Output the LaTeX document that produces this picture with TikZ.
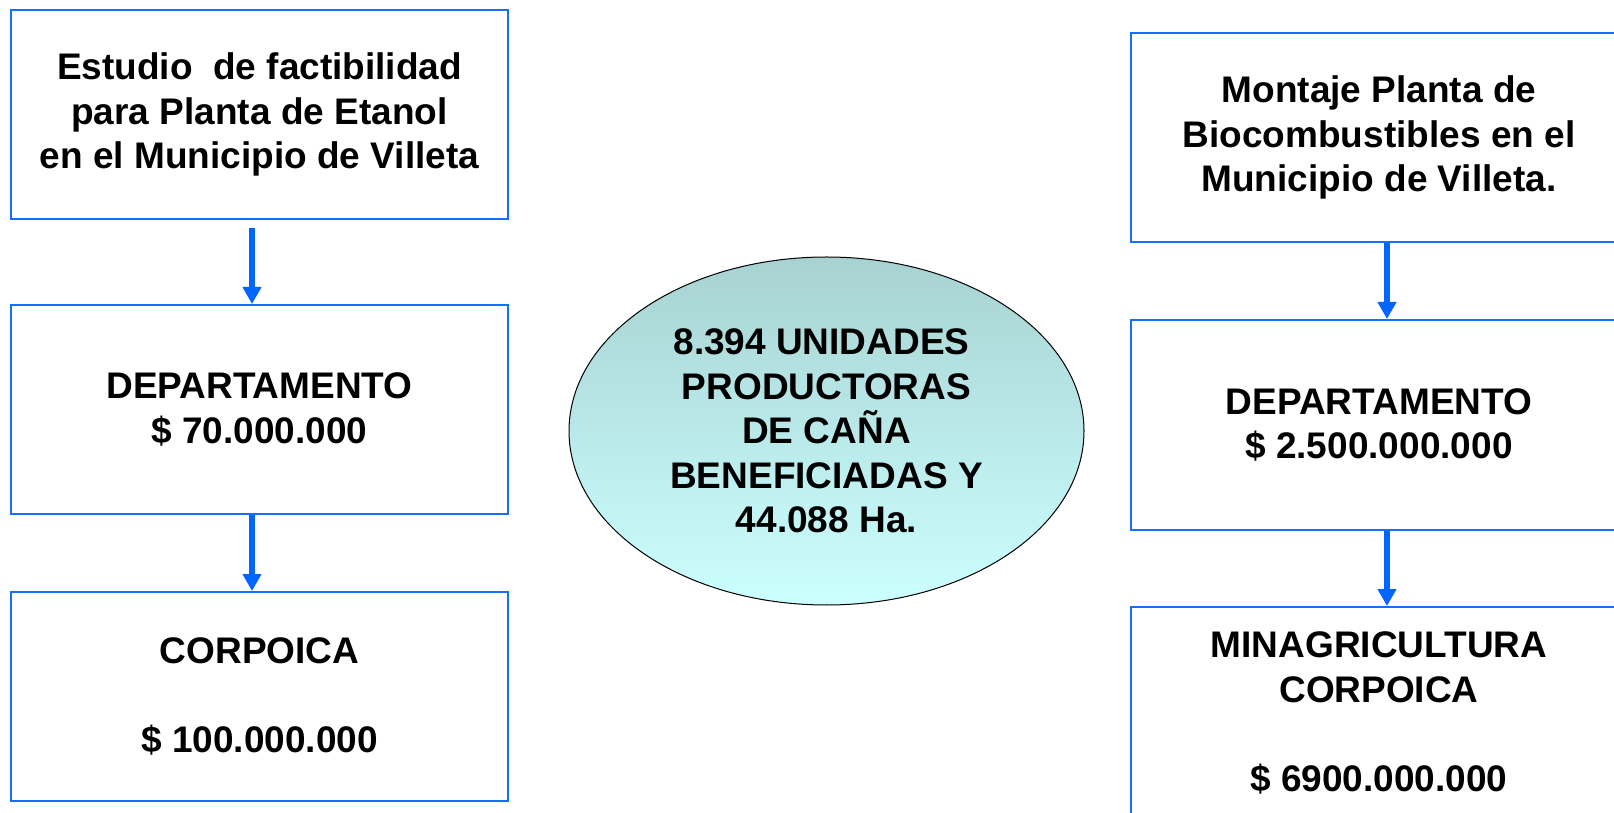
\documentclass[tikz,border=0pt]{standalone}
\usepackage{fontspec}
\setmainfont{Liberation Sans}
\usetikzlibrary{arrows.meta,shapes.geometric}
\definecolor{boxblue}{RGB}{20,110,255}
\definecolor{arrblue}{RGB}{0,102,255}
\definecolor{elltop}{RGB}{168,210,210}
\definecolor{ellbot}{RGB}{204,255,255}
\tikzset{
  txt/.style={font=\fontsize{37}{44.5}\selectfont\bfseries, align=center, text=black},
  stagebox/.style={txt, draw=boxblue, line width=2pt, rectangle, minimum width=497pt, inner sep=0pt},
  flowarrow/.style={draw=arrblue, line width=5.5pt, -{Triangle[length=17pt,width=18pt]}},
}
\begin{document}
\begin{tikzpicture}[x=1pt,y=1pt]
\useasboundingbox (0,0) rectangle (1614,812);
\clip (0,0) rectangle (1614,812);
\fill[white] (0,0) rectangle (1614,812);

% left column
\node[stagebox, minimum height=209pt] (L1) at (259.5,697.5)
  {Estudio\ \ de factibilidad\\para Planta de Etanol\\en el Municipio de Villeta};
\node[stagebox, minimum height=209pt] (L2) at (259.5,402.5)
  {DEPARTAMENTO\\\$ 70.000.000};
\node[stagebox, minimum height=209pt] (L3) at (259.5,115.5)
  {CORPOICA\\[44.5pt]\$ 100.000.000};

% right column
\node[stagebox, minimum height=209pt] (R1) at (1379,674.5)
  {Montaje Planta de\\Biocombustibles en el\\Municipio de Villeta.};
\node[stagebox, minimum height=210pt] (R2) at (1379,387)
  {DEPARTAMENTO\\\$ 2.500.000.000};
\node[stagebox, minimum height=212pt] (R3) at (1379,99)
  {MINAGRICULTURA\\CORPOICA\\[44.5pt]\$ 6900.000.000};

% centre ellipse
\node[txt, ellipse, draw=black, line width=1pt, minimum width=515pt, minimum height=348pt,
      inner sep=0pt, top color=elltop, bottom color=ellbot] (E) at (826.5,381)
  {8.394 UNIDADES\hspace*{10pt}\\PRODUCTORAS\\DE CAÑA\\BENEFICIADAS Y\hspace*{10pt}\\44.088 Ha.};

% arrows
\draw[flowarrow] ([xshift=-7.5pt,yshift=-8pt]L1.south) -- ([xshift=-7.5pt]L2.north);
\draw[flowarrow] ([xshift=-7.5pt]L2.south) -- ([xshift=-7.5pt]L3.north);
\draw[flowarrow] ([xshift=8pt]R1.south) -- ([xshift=8pt]R2.north);
\draw[flowarrow] ([xshift=8pt]R2.south) -- ([xshift=8pt]R3.north);
\end{tikzpicture}
\end{document}
